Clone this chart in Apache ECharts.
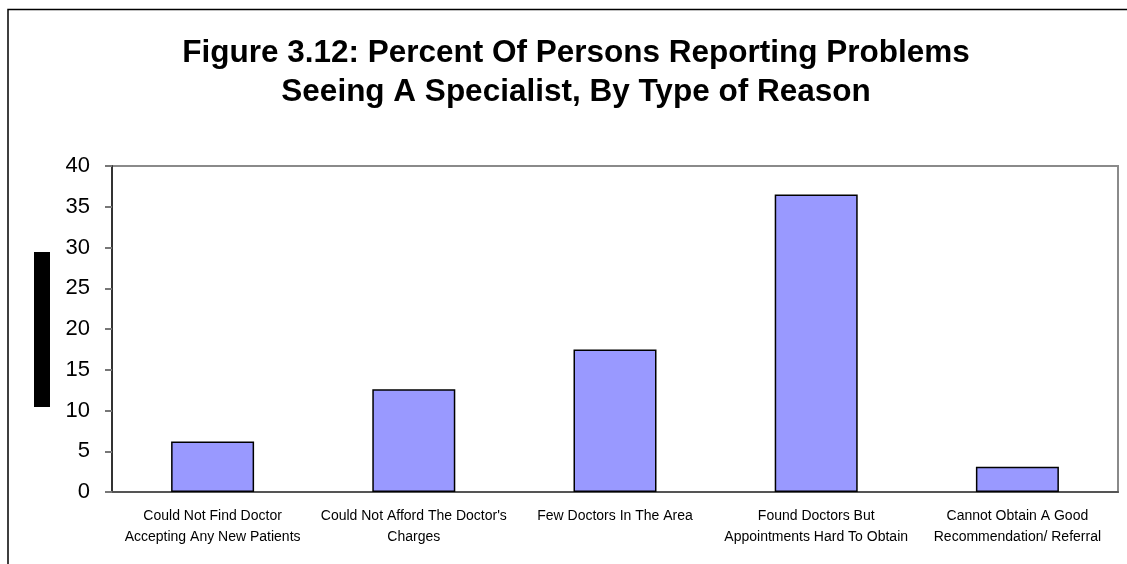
<!DOCTYPE html>
<html>
<head>
<meta charset="utf-8">
<script src="https://cdn.jsdelivr.net/npm/echarts@6/dist/echarts.min.js"></script>
<style>
  html, body { margin: 0; padding: 0; background: #fff; }
  #chart { width: 1127px; height: 564px; }
</style>
</head>
<body>
<div id="chart"></div>
<script>
// Reasons for problems seeing a specialist
const categories = [
  'Could Not Find Doctor\nAccepting Any New Patients',
  "Could Not Afford The Doctor's\nCharges",
  'Few Doctors In The Area',
  'Found Doctors But\nAppointments Hard To Obtain',
  'Cannot Obtain A Good\nRecommendation/ Referral'
];
// Percent of persons reporting each reason
const percents = [6.2, 12.6, 17.5, 36.5, 3.1];
// Value axis range
const yMin = 0;
const yMax = 40;
const yStep = 5;

const chart = echarts.init(document.getElementById('chart'), null, { renderer: 'canvas' });

chart.setOption({
  animation: false,
  backgroundColor: '#ffffff',
  title: {
    text: 'Figure 3.12: Percent Of Persons Reporting Problems\nSeeing A Specialist, By Type of Reason',
    left: 571,
    top: 29,
    textAlign: 'center',
    textStyle: {
      fontFamily: 'Liberation Sans, Arial, sans-serif',
      fontWeight: 'bold',
      fontSize: 31.5,
      lineHeight: 39,
      color: '#000'
    }
  },
  graphic: [
    // outer frame (left and top edges)
    { type: 'polyline', shape: { points: [[8, 564], [8, 9.5], [1127, 9.5]] },
      style: { stroke: '#000', lineWidth: 1.5, fill: null }, z: 10 },
    // axis title block
    { type: 'rect', shape: { x: 34, y: 252, width: 16, height: 155 },
      style: { fill: '#000' }, z: 10 }
  ],
  grid: {
    left: 112,
    right: 9,
    top: 166,
    bottom: 72,
    show: true,
    borderColor: '#8a8a8a',
    borderWidth: 2,
    backgroundColor: '#fff'
  },
  xAxis: {
    type: 'category',
    data: categories,
    axisLine: { show: true, lineStyle: { color: '#555', width: 2 } },
    axisTick: { show: false },
    axisLabel: {
      interval: 0,
      margin: 13,
      fontFamily: 'Liberation Sans, Arial, sans-serif',
      fontSize: 14,
      lineHeight: 21.5,
      color: '#000'
    }
  },
  yAxis: {
    type: 'value',
    min: yMin,
    max: yMax,
    interval: yStep,
    splitLine: { show: false },
    axisLine: { show: true, lineStyle: { color: '#333', width: 2 } },
    axisTick: { show: true, length: 7, lineStyle: { color: '#777', width: 2 } },
    axisLabel: {
      margin: 22,
      fontFamily: 'Liberation Sans, Arial, sans-serif',
      fontSize: 22,
      color: '#000'
    }
  },
  series: [{
    type: 'bar',
    data: percents,
    barWidth: 83,
    itemStyle: {
      color: '#9999ff',
      borderColor: '#000',
      borderWidth: 1.5
    }
  }]
});
</script>
</body>
</html>
